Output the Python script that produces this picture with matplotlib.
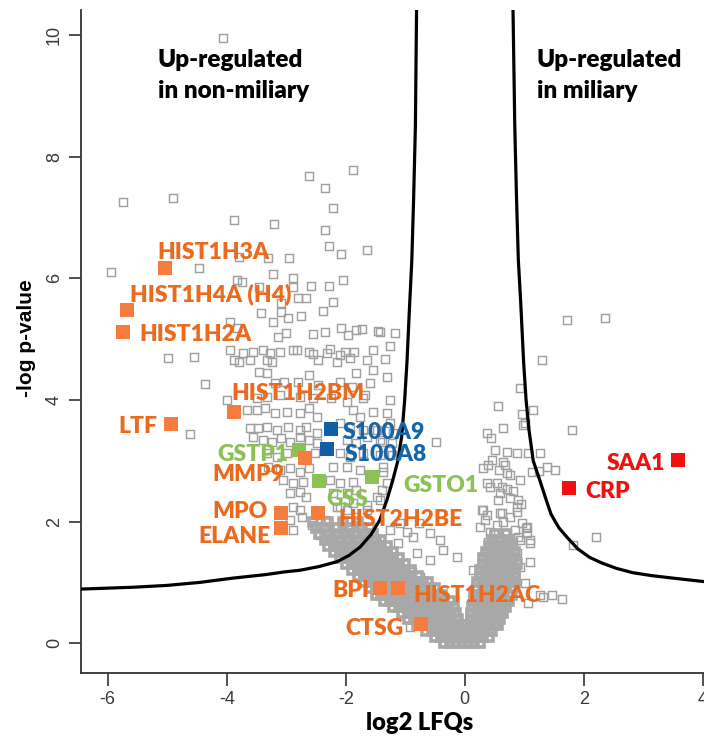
import matplotlib
matplotlib.use("Agg")
import matplotlib.pyplot as plt

plt.rcParams["axes.unicode_minus"] = False

# ------------------------- data -------------------------
# background proteins (log2 LFQ difference, -log10 p)
scatter_pts = [
    (-5.75, 7.25), (-4.91, 7.32), (-4.07, 9.95), (-5.95, 6.10), (-4.47, 6.17),
    (-3.88, 6.96), (-3.21, 6.89), (-4.99, 4.69), (-4.55, 4.70), (-4.61, 3.44),
    (-4.37, 4.26),
    (-2.62, 7.68), (-1.88, 7.78), (-2.35, 7.48), (-2.22, 7.15), (-2.35, 6.79),
    (-2.29, 6.53), (-2.08, 6.40), (-1.65, 6.46), (-3.80, 6.35), (-3.31, 6.33),
    (-2.96, 6.33), (-3.83, 5.97), (-3.75, 5.94), (-3.23, 6.07), (-2.89, 6.00),
    (-2.89, 5.86), (-3.45, 5.86), (-2.59, 5.87), (-2.29, 5.87), (-2.05, 5.97),
    (-2.81, 5.67), (-2.66, 5.67), (-2.22, 5.61), (-3.08, 5.59), (-2.39, 5.46),
    (-2.76, 5.38), (-2.97, 5.35), (-3.08, 5.44), (-3.43, 5.43), (-3.23, 5.28),
    (-3.95, 5.28), (-3.83, 5.18), (-3.14, 5.03), (-2.55, 5.08), (-2.35, 5.12),
    (-2.08, 5.18), (-1.97, 5.07), (-1.82, 5.15), (-1.45, 5.13), (-3.95, 4.82),
    (-3.87, 4.65), (-3.39, 4.82), (-3.28, 4.77), (-3.33, 4.65), (-3.11, 4.79),
    (-2.89, 4.82), (-2.82, 4.82), (-2.55, 4.75), (-2.32, 4.77), (-2.10, 4.74),
    (-1.87, 4.79),
    (-3.01, 5.10), (-1.73, 5.16), (-1.43, 5.12), (-1.18, 5.10), (-3.73, 4.77),
    (-3.56, 4.79), (-2.61, 4.79), (-2.27, 4.84), (-2.02, 4.79), (-1.55, 4.82),
    (-1.26, 4.88), (-3.80, 4.62), (-3.61, 4.65), (-3.24, 4.62), (-2.47, 4.65),
    (-2.15, 4.62), (-1.93, 4.69), (-1.65, 4.65), (-1.34, 4.67), (-3.45, 4.46),
    (-3.33, 4.44), (-2.61, 4.41), (-1.82, 4.44), (-1.55, 4.49), (-1.31, 4.37),
    (-3.19, 4.28), (-3.03, 4.29), (-2.81, 4.29), (-2.47, 4.24), (-2.10, 4.29),
    (-1.90, 4.21), (-1.60, 4.28), (-4.00, 4.00), (-3.50, 4.03), (-3.33, 4.05),
    (-3.11, 4.08), (-2.77, 4.05), (-2.55, 4.03), (-2.24, 4.03), (-1.98, 3.96),
    (-1.71, 4.03), (-1.26, 4.00), (-3.66, 3.83), (-3.50, 3.83), (-3.36, 3.87),
    (-3.19, 3.78), (-2.99, 3.80), (-2.77, 3.78), (-2.61, 3.87), (-2.49, 3.72),
    (-1.88, 3.83), (-1.76, 3.72), (-1.55, 3.80), (-1.31, 3.78), (-3.61, 3.54),
    (-3.48, 3.54), (-3.33, 3.55), (-3.16, 3.50), (-2.97, 3.55), (-2.77, 3.50),
    (-2.66, 3.55), (-2.49, 3.45), (-2.10, 3.62), (-1.93, 3.55), (-1.71, 3.50),
    (-1.48, 3.50), (-1.26, 3.62), (-3.56, 3.39), (-3.39, 3.34), (-3.24, 3.31),
    (-3.08, 3.37), (-2.94, 3.31), (-2.77, 3.39), (-2.61, 3.34), (-2.49, 3.29),
    (-1.98, 3.34), (-1.82, 3.29), (-1.65, 3.39), (-1.43, 3.34), (-1.23, 3.29),
    (-3.33, 3.12), (-3.16, 3.06), (-2.99, 3.12), (-2.52, 3.12), (-2.10, 3.12),
    (-1.93, 3.06), (-1.71, 3.12), (-1.43, 3.09), (-3.31, 2.89), (-3.11, 2.85),
    (-2.94, 2.88), (-2.77, 2.81), (-2.61, 2.88), (-2.22, 2.89), (-1.98, 2.89),
    (-1.76, 2.85), (-1.38, 2.89), (-3.06, 2.68), (-2.89, 2.63), (-2.72, 2.65),
    (-2.27, 2.68), (-2.10, 2.63), (-1.88, 2.65), (-1.31, 2.63), (-2.94, 2.47),
    (-2.77, 2.48), (-2.66, 2.40), (-2.22, 2.47), (-1.98, 2.47), (-1.82, 2.52),
    (-1.39, 2.52), (-2.89, 2.24), (-2.77, 2.19), (-2.10, 2.24), (-1.88, 2.30),
    (-1.65, 2.27), (-1.43, 2.35), (-2.89, 1.86), (-2.94, 2.02), (-2.74, 2.07),
    (-2.57, 1.94), (-2.35, 2.02), (-2.44, 1.78), (-2.18, 1.89),
    (-1.68, 4.08), (-1.21, 3.45), (-1.39, 3.31), (-1.23, 3.09), (-1.38, 2.81),
    (-1.48, 2.40),
    (-0.49, 3.31), (0.55, 3.90), (0.64, 3.54), (0.44, 3.37), (0.37, 3.45),
    (0.96, 3.77), (1.01, 3.62), (0.50, 3.17), (0.71, 3.14), (0.30, 2.88),
    (0.39, 2.93), (0.64, 2.98), (0.87, 3.12), (0.76, 2.76), (0.92, 2.68),
    (0.42, 2.57), (0.71, 2.53), (0.55, 2.35), (0.89, 2.35), (0.62, 2.14),
    (0.76, 2.07), (0.87, 2.15), (0.96, 1.97), (0.25, 1.91), (0.42, 1.83),
    (0.54, 1.94), (0.39, 1.66), (0.71, 1.64), (0.92, 1.69), (1.04, 1.91),
    (1.38, 2.89), (1.51, 2.85), (1.13, 2.81), (1.24, 2.83), (1.06, 3.12),
    (1.26, 3.12), (1.14, 3.83), (0.97, 3.59), (0.92, 4.19), (0.45, 3.01),
    (0.67, 2.93), (0.71, 2.80), (0.57, 2.85), (0.37, 2.63), (0.54, 2.63),
    (0.62, 2.57), (0.59, 2.47), (0.81, 2.50), (0.76, 2.38), (0.94, 2.29),
    (0.30, 2.19), (0.34, 2.02), (0.59, 2.14), (0.64, 1.99), (1.03, 1.89),
    (0.71, 1.81), (0.84, 1.86), (0.89, 1.74), (0.81, 1.66), (0.47, 1.61),
    (0.59, 1.56), (0.37, 1.48), (0.54, 1.48), (1.09, 1.69),
    (1.71, 5.31), (2.35, 5.35), (1.29, 4.65), (1.80, 3.50), (2.20, 1.74),
    (1.82, 1.61), (1.31, 0.76), (1.63, 0.72),
    (-0.77, 1.97), (-0.59, 1.81), (-0.42, 1.69), (-0.37, 1.53), (-0.13, 1.41),
    (-0.59, 1.37), (-0.81, 1.48), (-0.89, 1.17), (-0.76, 1.09), (0.13, 1.20),
    (0.29, 2.19), (0.37, 2.11), (0.87, 2.24), (1.04, 1.81), (1.09, 1.64),
    (0.87, 1.48), (0.92, 1.25), (1.09, 1.33), (1.01, 0.99), (1.26, 0.79),
    (1.46, 0.79), (1.06, 0.66), (-1.09, 1.97), (-0.97, 1.83), (-1.26, 1.86),
    (-1.43, 1.69), (-0.87, 1.74), (-1.13, 1.64), (-0.92, 0.26),
    (-2.15, 2.24), (-1.98, 2.19), (-1.82, 2.07), (-1.65, 2.19), (-2.15, 1.91),
    (-1.93, 1.86),
]

# the crowded low-significance "V" near zero fold change, one row per -log p level
core_rows = {
    0.0: [-0.35, -0.25, -0.15, -0.05, 0.05, 0.15, 0.25],
    0.1: [-0.5, -0.4, -0.3, -0.2, -0.1, 0.0, 0.1, 0.2, 0.3, 0.4],
    0.2: [-0.65, -0.55, -0.45, -0.35, -0.25, -0.15, -0.05, 0.05, 0.15, 0.25, 0.35, 0.45],
    0.3: [-0.8, -0.7, -0.6, -0.5, -0.4, -0.3, -0.2, -0.1, 0.0, 0.1, 0.2, 0.3, 0.4, 0.5, 0.55],
    0.4: [-0.95, -0.85, -0.75, -0.65, -0.55, -0.45, -0.35, -0.25, -0.12,
          0.1, 0.2, 0.3, 0.4, 0.5, 0.6],
    0.5: [-1.05, -0.95, -0.85, -0.75, -0.65, -0.55, -0.45, -0.35, -0.25, -0.15,
          0.1, 0.2, 0.3, 0.4, 0.5, 0.6, 0.65],
    0.6: [-1.2, -1.1, -1.0, -0.9, -0.8, -0.7, -0.6, -0.5, -0.4, -0.3, -0.18,
          0.12, 0.22, 0.32, 0.42, 0.52, 0.62, 0.7],
    0.7: [-1.35, -1.25, -1.15, -1.05, -0.95, -0.85, -0.75, -0.65, -0.55, -0.45, -0.35, -0.25,
          0.15, 0.25, 0.35, 0.45, 0.55, 0.65, 0.75],
    0.8: [-1.5, -1.4, -1.3, -1.2, -1.1, -1.0, -0.9, -0.8, -0.7, -0.6, -0.5, -0.38,
          0.15, 0.25, 0.35, 0.45, 0.55, 0.65, 0.75, 0.8],
    0.9: [-1.6, -1.5, -1.4, -1.3, -1.2, -1.1, -1.0, -0.9, -0.8, -0.7, -0.6, -0.5,
          0.2, 0.3, 0.4, 0.5, 0.6, 0.7, 0.8],
    1.0: [-1.7, -1.6, -1.5, -1.4, -1.3, -1.2, -1.1, -1.0, -0.9, -0.8, -0.7, -0.62,
          0.2, 0.3, 0.4, 0.5, 0.6, 0.7, 0.8, 0.85],
    1.1: [-1.8, -1.7, -1.6, -1.5, -1.4, -1.3, -1.2, -1.1, -1.0, -0.9, -0.78,
          0.25, 0.35, 0.45, 0.55, 0.65, 0.75, 0.85],
    1.2: [-1.9, -1.8, -1.7, -1.6, -1.5, -1.4, -1.3, -1.2, -1.1, -1.0, -0.9,
          0.25, 0.35, 0.45, 0.55, 0.65, 0.75, 0.85],
    1.3: [-2.0, -1.9, -1.8, -1.7, -1.6, -1.5, -1.4, -1.3, -1.2, -1.1, -1.0,
          0.3, 0.4, 0.5, 0.6, 0.7, 0.8, 0.88],
    1.4: [-2.1, -2.0, -1.9, -1.8, -1.7, -1.6, -1.5, -1.4, -1.3, -1.2, -1.1,
          0.3, 0.4, 0.5, 0.6, 0.7, 0.8],
    1.5: [-2.2, -2.1, -2.0, -1.9, -1.8, -1.7, -1.6, -1.5, -1.4, -1.3, -1.2,
          0.35, 0.45, 0.55, 0.65, 0.75, 0.85],
    1.6: [-2.3, -2.2, -2.1, -2.0, -1.9, -1.8, -1.7, -1.6, -1.5, -1.4, -1.3,
          0.4, 0.5, 0.6, 0.7, 0.8],
    1.7: [-2.35, -2.25, -2.1, -1.95, -1.8, -1.65, -1.5, -1.4, 0.45, 0.6, 0.75],
    1.8: [-2.45, -2.3, -2.15, -2.0, -1.85, -1.7, -1.55, 0.5, 0.7],
    1.9: [-2.5, -2.35, -2.15, -1.95, -1.75, -1.6],
    2.0: [-2.55, -2.3, -2.05, -1.8],
}

# significance threshold curves (FDR / s0 cut-off)
curve_left_x = [-0.81, -0.83, -0.86, -0.89, -0.93, -0.97, -1.01, -1.06, -1.13, -1.21,
                -1.31, -1.43, -1.58, -1.76, -1.95, -2.15, -2.45, -2.77, -3.05, -3.33,
                -3.90, -4.45, -5.01, -5.58, -6.45]
curve_left_y = [10.45, 8.5, 7.3, 6.3, 5.5, 4.65, 4.0, 3.4, 2.98, 2.68,
                2.35, 2.02, 1.78, 1.58, 1.44, 1.34, 1.26, 1.20, 1.17, 1.13,
                1.07, 1.00, 0.95, 0.92, 0.89]
curve_right_x = [0.81, 0.84, 0.87, 0.90, 0.94, 0.99, 1.03, 1.08, 1.15, 1.26, 1.36,
                 1.45, 1.58, 1.72, 1.90, 2.10, 2.30, 2.55, 2.82, 3.15, 3.50, 4.05]
curve_right_y = [10.45, 8.5, 7.3, 6.3, 5.6, 4.6, 4.0, 3.5, 3.0, 2.68, 2.38,
                 2.12, 1.90, 1.74, 1.55, 1.41, 1.32, 1.23, 1.16, 1.11, 1.07, 1.01]

# highlighted proteins
genes = ["HIST1H3A", "HIST1H4A (H4)", "HIST1H2A", "LTF", "HIST1H2BM", "GSTP1", "MMP9",
         "GSS", "MPO", "ELANE", "HIST2H2BE", "S100A9", "S100A8", "GSTO1", "BPI",
         "HIST1H2AC", "CTSG", "SAA1", "CRP"]
gene_x = [-5.04, -5.68, -5.75, -4.94, -3.87, -2.79, -2.69, -2.45, -3.08, -3.08, -2.47,
          -2.25, -2.32, -1.56, -1.43, -1.13, -0.74, 3.58, 1.75]
gene_y = [6.17, 5.48, 5.12, 3.60, 3.80, 3.17, 3.04, 2.66, 2.14, 1.89, 2.14,
          3.52, 3.19, 2.73, 0.90, 0.90, 0.31, 3.01, 2.55]
gene_group = ["neutrophil", "neutrophil", "neutrophil", "neutrophil", "neutrophil",
              "glutathione", "neutrophil", "glutathione", "neutrophil", "neutrophil",
              "neutrophil", "calprotectin", "calprotectin", "glutathione", "neutrophil",
              "neutrophil", "neutrophil", "acute", "acute"]

# ------------------------- style -------------------------
MARK_COL = {"neutrophil": "#F57B3F", "glutathione": "#8CC153",
            "calprotectin": "#0F5FA5", "acute": "#F01010"}
TEXT_COL = {"neutrophil": "#EC6A1E", "glutathione": "#8CC153",
            "calprotectin": "#1565A8", "acute": "#F01010"}

# label anchor (left edge, vertical centre) in data units
LABEL_POS = {
    "HIST1H3A": (-5.16, 6.43), "HIST1H4A (H4)": (-5.63, 5.73), "HIST1H2A": (-5.46, 5.07),
    "LTF": (-5.82, 3.56), "HIST1H2BM": (-3.92, 4.10), "GSTP1": (-4.15, 3.10),
    "MMP9": (-4.25, 2.77), "GSS": (-2.32, 2.37), "MPO": (-4.24, 2.16),
    "ELANE": (-4.47, 1.76), "HIST2H2BE": (-2.12, 2.03), "S100A9": (-2.05, 3.47),
    "S100A8": (-2.02, 3.10), "GSTO1": (-1.04, 2.60), "BPI": (-2.22, 0.87),
    "HIST1H2AC": (-0.87, 0.78), "CTSG": (-2.00, 0.25), "SAA1": (2.39, 2.95),
    "CRP": (2.02, 2.49),
}

BOLD = ["Lato", "DejaVu Sans"]
ARIAL = ["Liberation Sans", "DejaVu Sans"]

fig = plt.figure(figsize=(7.04, 7.40), dpi=100)
ax = fig.add_axes([0.115, 0.0905, 0.885, 0.896])

sx = [p[0] for p in scatter_pts]
sy = [p[1] for p in scatter_pts]
cx, cy = [], []
for yv, xs in core_rows.items():
    cx.extend(xs)
    cy.extend([yv] * len(xs))

ax.plot(sx, sy, linestyle="None", marker="s", markersize=6.2, markerfacecolor="none",
        markeredgecolor="#A0A0A0", markeredgewidth=1.05, zorder=2)
# overlapping squares in the crowded core merge into a near-solid grey patch
ax.plot(cx, cy, linestyle="None", marker="s", markersize=6.2, markerfacecolor="none",
        markeredgecolor="#A8A8A8", markeredgewidth=2.6, zorder=2)

ax.plot(curve_left_x, curve_left_y, color="black", lw=2.3, zorder=3, solid_joinstyle="round")
ax.plot(curve_right_x, curve_right_y, color="black", lw=2.3, zorder=3, solid_joinstyle="round")

for g, x, y, grp in zip(genes, gene_x, gene_y, gene_group):
    ax.plot([x], [y], linestyle="None", marker="s", markersize=9.5,
            color=MARK_COL[grp], markeredgewidth=0, zorder=4)
    lx, ly = LABEL_POS[g]
    ax.text(lx, ly, g, color=TEXT_COL[grp], fontsize=16.5, fontweight="heavy",
            family=BOLD, ha="left", va="center", zorder=5)

for tx, ty, s in [(-5.16, 9.47, "Up-regulated"), (-5.16, 8.96, "in non-miliary"),
                  (1.21, 9.47, "Up-regulated"), (1.21, 8.96, "in miliary")]:
    ax.text(tx, ty, s, fontsize=17.5, fontweight="heavy", family=BOLD,
            ha="left", va="baseline")

ax.set_xlim(-6.45, 4.02)
ax.set_ylim(-0.49, 10.41)
ax.set_xticks([-6, -4, -2, 0, 2, 4])
ax.set_yticks([0, 2, 4, 6, 8, 10])
ax.spines["top"].set_visible(False)
ax.spines["right"].set_visible(False)
for s in ("left", "bottom"):
    ax.spines[s].set_linewidth(1.3)
    ax.spines[s].set_color("#333333")
ax.tick_params(length=9, width=1.2, color="#333333", labelsize=13,
               labelcolor="#3a3a3a", pad=4)
for lab in ax.get_xticklabels():
    lab.set_family(ARIAL)
for lab in ax.get_yticklabels():
    lab.set_family(ARIAL)
    lab.set_rotation(90)
    lab.set_va("center")

fig.text(420 / 704, 1 - 723 / 740, "log2 LFQs", fontsize=17, fontweight="heavy",
         family=BOLD, ha="center", va="center")
fig.text(26 / 704, 1 - 338 / 740, "-log p-value", fontsize=15, fontweight="bold",
         family=ARIAL, ha="center", va="center", rotation=90)

fig.savefig("out.png", dpi=100)
